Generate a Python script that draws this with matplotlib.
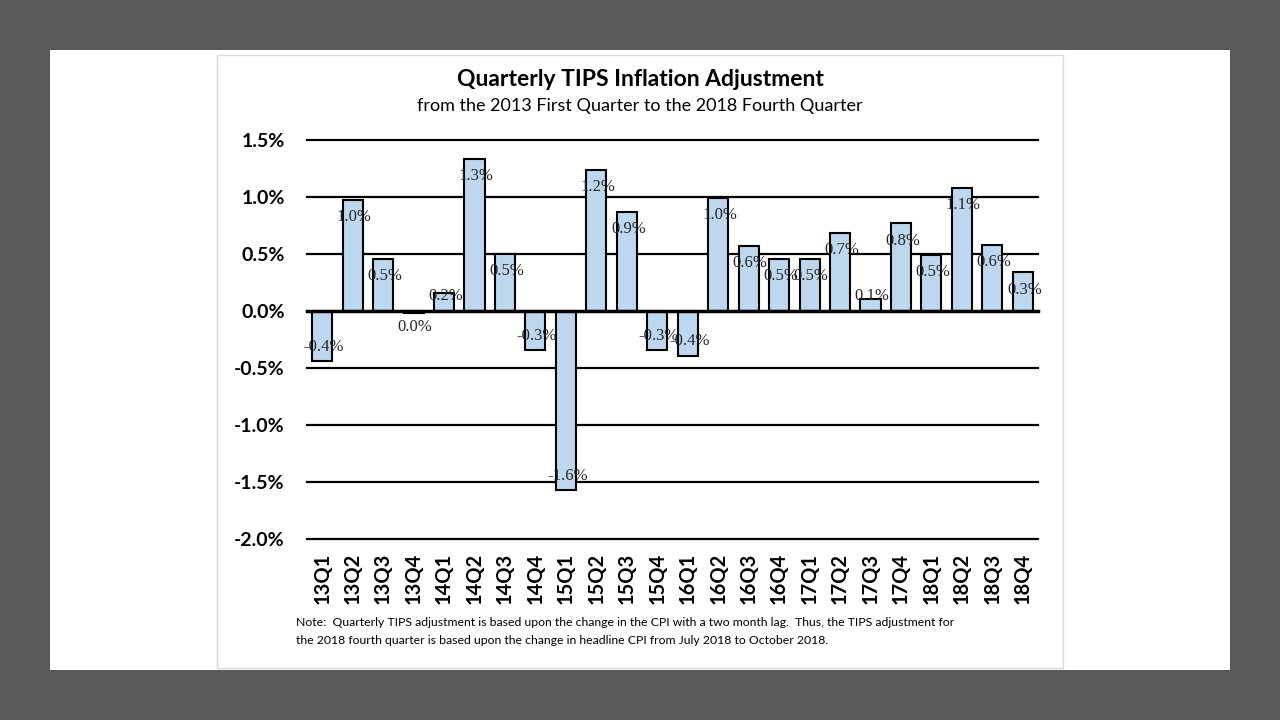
import matplotlib
matplotlib.use("Agg")
import matplotlib.pyplot as plt
from matplotlib.patches import Rectangle

# Data (percent)
quarters = ["13Q1", "13Q2", "13Q3", "13Q4", "14Q1", "14Q2", "14Q3", "14Q4",
            "15Q1", "15Q2", "15Q3", "15Q4", "16Q1", "16Q2", "16Q3", "16Q4",
            "17Q1", "17Q2", "17Q3", "17Q4", "18Q1", "18Q2", "18Q3", "18Q4"]
adjustment = [-0.44, 0.98, 0.46, -0.02, 0.16, 1.34, 0.50, -0.34,
              -1.57, 1.24, 0.87, -0.34, -0.39, 0.99, 0.57, 0.46,
              0.46, 0.69, 0.11, 0.77, 0.49, 1.08, 0.58, 0.34]
y_ticks = [-2.0, -1.5, -1.0, -0.5, 0.0, 0.5, 1.0, 1.5]

title = "Quarterly TIPS Inflation Adjustment"
subtitle = "from the 2013 First Quarter to the 2018 Fourth Quarter"
note_lines = ["Note:  Quarterly TIPS adjustment is based upon the change in the CPI with a two month lag.  "
              "Thus, the TIPS adjustment for",
              "the 2018 fourth quarter is based upon the change in headline CPI from July 2018 to October 2018."]

sans = ["Lato", "DejaVu Sans"]

fig = plt.figure(figsize=(12.8, 7.2), dpi=100)
fig.patch.set_facecolor("#595959")

# white slide + chart frame
fig.add_artist(Rectangle((50 / 1280, 50 / 720), 1180 / 1280, 620 / 720,
                         transform=fig.transFigure, facecolor="white", edgecolor="none", zorder=0))
fig.add_artist(Rectangle((217 / 1280, 52 / 720), 846 / 1280, 613 / 720,
                         transform=fig.transFigure, facecolor="white", edgecolor="#d9d9d9",
                         linewidth=1, zorder=0))

ax = fig.add_axes([307 / 1280, 1 - 539 / 720, 731 / 1280, (539 - 140.3) / 720])
ax.set_facecolor("none")

x = list(range(len(quarters)))
ax.bar(x, adjustment, width=0.66, color="#bdd7ee", edgecolor="black", linewidth=1.5, zorder=3)

# labels sit just inside the bar end, pushed clear of the zero line for short bars
for xi, v in zip(x, adjustment):
    txt = f"{v:.1f}%"
    if txt.startswith("-0.0"):
        txt = txt[1:]
    if v >= 0:
        ly = max(v - 0.15, 0.13)
    else:
        ly = min(v + 0.125, -0.14)
    ax.text(xi + 0.05, ly, txt, ha="center", va="center", fontsize=12,
            family="Liberation Serif", color="#262626", zorder=4)

ax.set_xlim(-0.5, len(quarters) - 0.5)
ax.set_ylim(-2.0, 1.5)
ax.set_yticks(y_ticks)
ax.set_yticklabels([f"{t:.1f}%" for t in y_ticks], fontsize=14, fontweight="bold", family=sans)
ax.set_xticks(x)
ax.set_xticklabels(quarters, rotation=90, fontsize=14.5, fontweight="bold", family=sans)
ax.tick_params(axis="y", length=0, pad=16)
ax.tick_params(axis="x", length=0, pad=10)

for t in y_ticks:
    ax.axhline(t, color="black", linewidth=2.5 if t == 0 else 1.6,
               zorder=5 if t == 0 else 2, clip_on=False)
for s in ax.spines.values():
    s.set_visible(False)

fig.text(640 / 1280, 1 - 79 / 720, title, ha="center", va="center", fontsize=16.5,
         fontweight="bold", family=sans)
fig.text(640 / 1280, 1 - 106 / 720, subtitle, ha="center", va="center", fontsize=13, family=sans)
for i, line in enumerate(note_lines):
    fig.text(296 / 1280, 1 - (622.5 + 18.5 * i) / 720, line, ha="left", va="center",
             fontsize=8.8, family=sans)

fig.savefig("out.png", dpi=100, facecolor=fig.get_facecolor())
